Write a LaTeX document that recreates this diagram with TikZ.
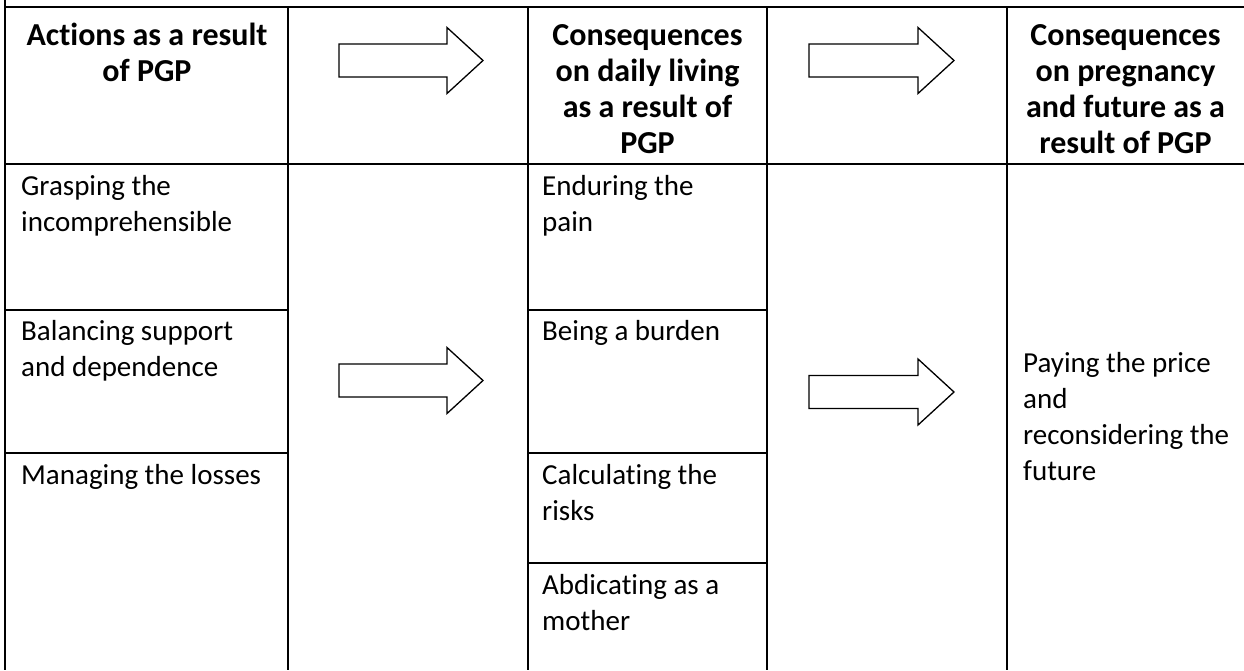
\documentclass[tikz,border=0pt]{standalone}
\usepackage{fontspec}
\setmainfont{Carlito}[Ligatures={NoCommon}, RawFeature={-liga}]
\newcommand\blockarr[4]{% tail x, head base x, tip x, centre y
  \draw[blockarrow] (#1,#4-16.5) -- (#2,#4-16.5) -- (#2,#4-33) -- (#3,#4)
    -- (#2,#4+33) -- (#2,#4+16.5) -- (#1,#4+16.5) -- cycle;}
\begin{document}
\begin{tikzpicture}[x=1pt,y=-1pt,
  grid/.style={line width=2pt},
  body/.style={anchor=base west, inner sep=0pt, font=\fontsize{29}{36}\selectfont},
  head/.style={anchor=base, inner sep=0pt, font=\fontsize{32}{36}\selectfont\bfseries},
  blockarrow/.style={draw, line width=1.3pt, fill=white, line join=miter}]
\useasboundingbox (0,0) rectangle (1244,670);
% table grid
\draw[grid] (5,0) -- (5,670);
\draw[grid] (5,7) -- (1244,7);
\draw[grid] (5,164) -- (1244,164);
\foreach \x in {288,528,767,1007} \draw[grid] (\x,7) -- (\x,670);
\draw[grid] (5,310) -- (288,310) (5,453) -- (288,453);
\draw[grid] (528,310) -- (767,310) (528,453) -- (767,453) (528,563) -- (767,563);
% block arrows
\blockarr{339}{447}{483}{60.5}
\blockarr{809}{918}{954}{60.5}
\blockarr{339}{447}{483}{380.5}
\blockarr{809}{918}{954}{392}
% headers
\node[head] (h1) at (147,45) {\begin{tabular}[t]{@{}c@{}}Actions as a result\\of PGP\end{tabular}};
\node[head] (h3) at (647.5,45) {\begin{tabular}[t]{@{}c@{}}Consequences\\on daily living\\as a result of\\PGP\end{tabular}};
\node[head] (h5) at (1125.5,45) {\begin{tabular}[t]{@{}c@{}}Consequences\\on pregnancy\\and future as a\\result of PGP\end{tabular}};
% body cells
\node[body] (a1) at (21,195) {\begin{tabular}[t]{@{}l@{}}Grasping the\\incomprehensible\end{tabular}};
\node[body] (a2) at (21,340) {\begin{tabular}[t]{@{}l@{}}Balancing support\\and dependence\end{tabular}};
\node[body] (a3) at (21,484) {\begin{tabular}[t]{@{}l@{}}Managing the losses\end{tabular}};
\node[body] (c1) at (542,195) {\begin{tabular}[t]{@{}l@{}}Enduring the\\pain\end{tabular}};
\node[body] (c2) at (542,340) {\begin{tabular}[t]{@{}l@{}}Being a burden\end{tabular}};
\node[body] (c3) at (542,484) {\begin{tabular}[t]{@{}l@{}}Calculating the\\risks\end{tabular}};
\node[body] (c4) at (542,594) {\begin{tabular}[t]{@{}l@{}}Abdicating as a\\mother\end{tabular}};
\node[body] (e1) at (1023,372) {\begin{tabular}[t]{@{}l@{}}Paying the price\\and\\reconsidering the\\future\end{tabular}};
\end{tikzpicture}
\end{document}
